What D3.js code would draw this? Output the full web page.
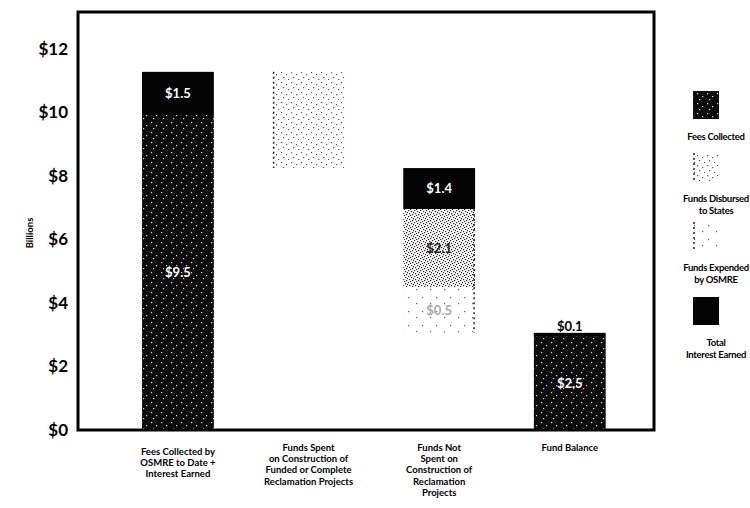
<!DOCTYPE html>
<html>
<head>
<meta charset="utf-8">
<script src="https://cdn.jsdelivr.net/npm/d3@7"></script>
<style>
  body { margin: 0; background: #fff; }
  text { font-family: Lato, "Open Sans", sans-serif; font-weight: bold; }
</style>
</head>
<body>
<div id="chart"></div>
<script>
// categories (x axis), one entry per line of the wrapped label
const categories = [
  ["Fees Collected by", "OSMRE to Date +", "Interest Earned"],
  ["Funds Spent", "on Construction of", "Funded or Complete", "Reclamation Projects"],
  ["Funds Not", "Spent on", "Construction of", "Reclamation", "Projects"],
  ["Fund Balance"]
];

// stacked segments (billions)
const segmentBar   = [0, 0, 1, 2, 2, 2, 3, 3];
const segmentLow   = [0, 9.92, 8.25, 6.96, 4.50, 3.06, 0, 2.96];
const segmentHigh  = [9.92, 11.28, 11.28, 8.25, 6.96, 4.50, 2.96, 3.06];
const segmentKind  = ["fees", "interest", "disbursed", "interest", "mixed", "expended", "fees", "interest"];
const segmentLabel = ["$9.5", "$1.5", "", "$1.4", "$2.1", "$0.5", "$2.5", "$0.1"];

// y axis ticks
const yTicks = [0, 2, 4, 6, 8, 10, 12];

// legend
const legendKinds  = ["fees", "disbursed", "expended", "interest"];
const legendLabels = [["Fees Collected"], ["Funds Disbursed", "to States"], ["Funds Expended", "by OSMRE"], ["Total", "Interest Earned"]];

const width = 750, height = 508;
const plot = { left: 78, right: 654, top: 12, bottom: 430 };

const svg = d3.select("#chart").append("svg")
  .attr("width", width)
  .attr("height", height);

// stipple patterns
const defs = svg.append("defs");
const patternDefs = {
  fees:      { bg: "#0d0d0d", dot: "#ddd", size: 10, dots: [[1,2],[6,5],[3,8]] },
  interest:  { bg: "#030303", dot: "#030303", size: 10, dots: [] },
  disbursed: { bg: "#fff", dot: "#555", size: 10, dots: [[1,2],[6,4],[3,7],[8,9]] },
  mixed:     { bg: "#fff", dot: "#222", size: 6, dots: [[0,0],[3,1],[1,3],[4,4],[2,5],[5,2]] },
  expended:  { bg: "#fff", dot: "#666", size: 14, dots: [[2,3],[10,9]] }
};
Object.keys(patternDefs).forEach(key => {
  const p = patternDefs[key];
  const pat = defs.append("pattern")
    .attr("id", "pat-" + key)
    .attr("patternUnits", "userSpaceOnUse")
    .attr("width", p.size)
    .attr("height", p.size);
  pat.append("rect").attr("width", p.size).attr("height", p.size).attr("fill", p.bg);
  pat.selectAll("rect.dot")
    .data(p.dots)
    .join("rect")
    .attr("class", "dot")
    .attr("x", d => d[0]).attr("y", d => d[1])
    .attr("width", 1.2).attr("height", 1.2)
    .attr("fill", p.dot);
});
const lightKinds = ["disbursed", "mixed", "expended"];

// scales
const xScale = d3.scaleBand()
  .domain(d3.range(categories.length))
  .range([plot.left, plot.right])
  .paddingInner(0.45)
  .paddingOuter(0.43)
  .align(0.57);

const yScale = d3.scaleLinear()
  .domain([0, 12])
  .range([plot.bottom, 49]);

// y axis
const yAxisGroup = svg.append("g")
  .attr("transform", `translate(${plot.left},0)`)
  .call(d3.axisLeft(yScale).tickValues(yTicks).tickFormat(d => "$" + d).tickSize(0).tickPadding(10));
yAxisGroup.select(".domain").remove();
yAxisGroup.selectAll("text")
  .attr("font-size", 17)
  .attr("font-family", "Lato, sans-serif")
  .attr("font-weight", "bold")
  .attr("fill", "#000");

svg.append("text")
  .attr("transform", `translate(33,${(plot.top + plot.bottom) / 2 + 12}) rotate(-90)`)
  .attr("text-anchor", "middle")
  .attr("font-size", 9.5)
  .text("Billions");

// bars
const segIdx = d3.range(segmentBar.length);
const bw = xScale.bandwidth();

svg.append("g").selectAll("rect")
  .data(segIdx)
  .join("rect")
  .attr("x", i => xScale(segmentBar[i]))
  .attr("y", i => yScale(segmentHigh[i]))
  .attr("width", bw)
  .attr("height", i => yScale(segmentLow[i]) - yScale(segmentHigh[i]))
  .attr("fill", i => `url(#pat-${segmentKind[i]})`);

// dotted edges on the light stipple segments
svg.append("g").selectAll("line")
  .data(segIdx.filter(i => lightKinds.includes(segmentKind[i])))
  .join("line")
  .attr("x1", i => xScale(segmentBar[i]) + (segmentBar[i] === 1 ? 1 : bw - 1))
  .attr("x2", i => xScale(segmentBar[i]) + (segmentBar[i] === 1 ? 1 : bw - 1))
  .attr("y1", i => yScale(segmentHigh[i]))
  .attr("y2", i => yScale(segmentLow[i]))
  .attr("stroke", "#222")
  .attr("stroke-width", 1.5)
  .attr("stroke-dasharray", "2,3");

// segment labels
const labelColor = { fees: "#fff", interest: "#fff", disbursed: "#555", mixed: "#222", expended: "#aaa" };
svg.append("g").selectAll("text")
  .data(segIdx.filter(i => segmentLabel[i] !== ""))
  .join("text")
  .attr("x", i => xScale(segmentBar[i]) + bw / 2)
  .attr("y", i => {
    const h = yScale(segmentLow[i]) - yScale(segmentHigh[i]);
    if (h < 10) return yScale(segmentHigh[i]) - 6;
    return (yScale(segmentLow[i]) + yScale(segmentHigh[i])) / 2;
  })
  .attr("dy", "0.35em")
  .attr("text-anchor", "middle")
  .attr("font-size", 13)
  .attr("fill", i => {
    const h = yScale(segmentLow[i]) - yScale(segmentHigh[i]);
    return h < 10 ? "#000" : labelColor[segmentKind[i]];
  })
  .text(i => segmentLabel[i]);

// frame
svg.append("rect")
  .attr("x", plot.left)
  .attr("y", plot.top)
  .attr("width", plot.right - plot.left)
  .attr("height", plot.bottom - plot.top)
  .attr("fill", "none")
  .attr("stroke", "#000")
  .attr("stroke-width", 3);

// category labels
const catGroups = svg.append("g").selectAll("text")
  .data(categories)
  .join("text")
  .attr("text-anchor", "middle")
  .attr("font-size", 9.5)
  .attr("transform", (d, i) => `translate(${xScale(i) + bw / 2},${i === 0 ? 455 : 451})`);
catGroups.selectAll("tspan")
  .data(d => d)
  .join("tspan")
  .attr("x", 0)
  .attr("y", (d, j) => j * 11.2)
  .text(d => d);

// legend
const legendTop = [91, 153, 222, 297];
const legend = svg.append("g").selectAll("g")
  .data(legendKinds)
  .join("g")
  .attr("transform", (d, i) => `translate(706,${legendTop[i]})`);
legend.append("rect")
  .attr("x", -13)
  .attr("width", 26)
  .attr("height", 28)
  .attr("fill", d => `url(#pat-${d})`);
legend.filter(d => lightKinds.includes(d)).append("line")
  .attr("x1", -12).attr("x2", -12)
  .attr("y1", 0).attr("y2", 28)
  .attr("stroke", "#222")
  .attr("stroke-width", 1.5)
  .attr("stroke-dasharray", "2,3");
legend.append("text")
  .attr("text-anchor", "middle")
  .attr("font-size", 9.5)
  .attr("letter-spacing", -0.3)
  .attr("transform", "translate(10,0)")
  .selectAll("tspan")
  .data((d, i) => legendLabels[i])
  .join("tspan")
  .attr("x", 0)
  .attr("y", (d, j) => 49 + j * 11.5)
  .text(d => d);
</script>
</body>
</html>
